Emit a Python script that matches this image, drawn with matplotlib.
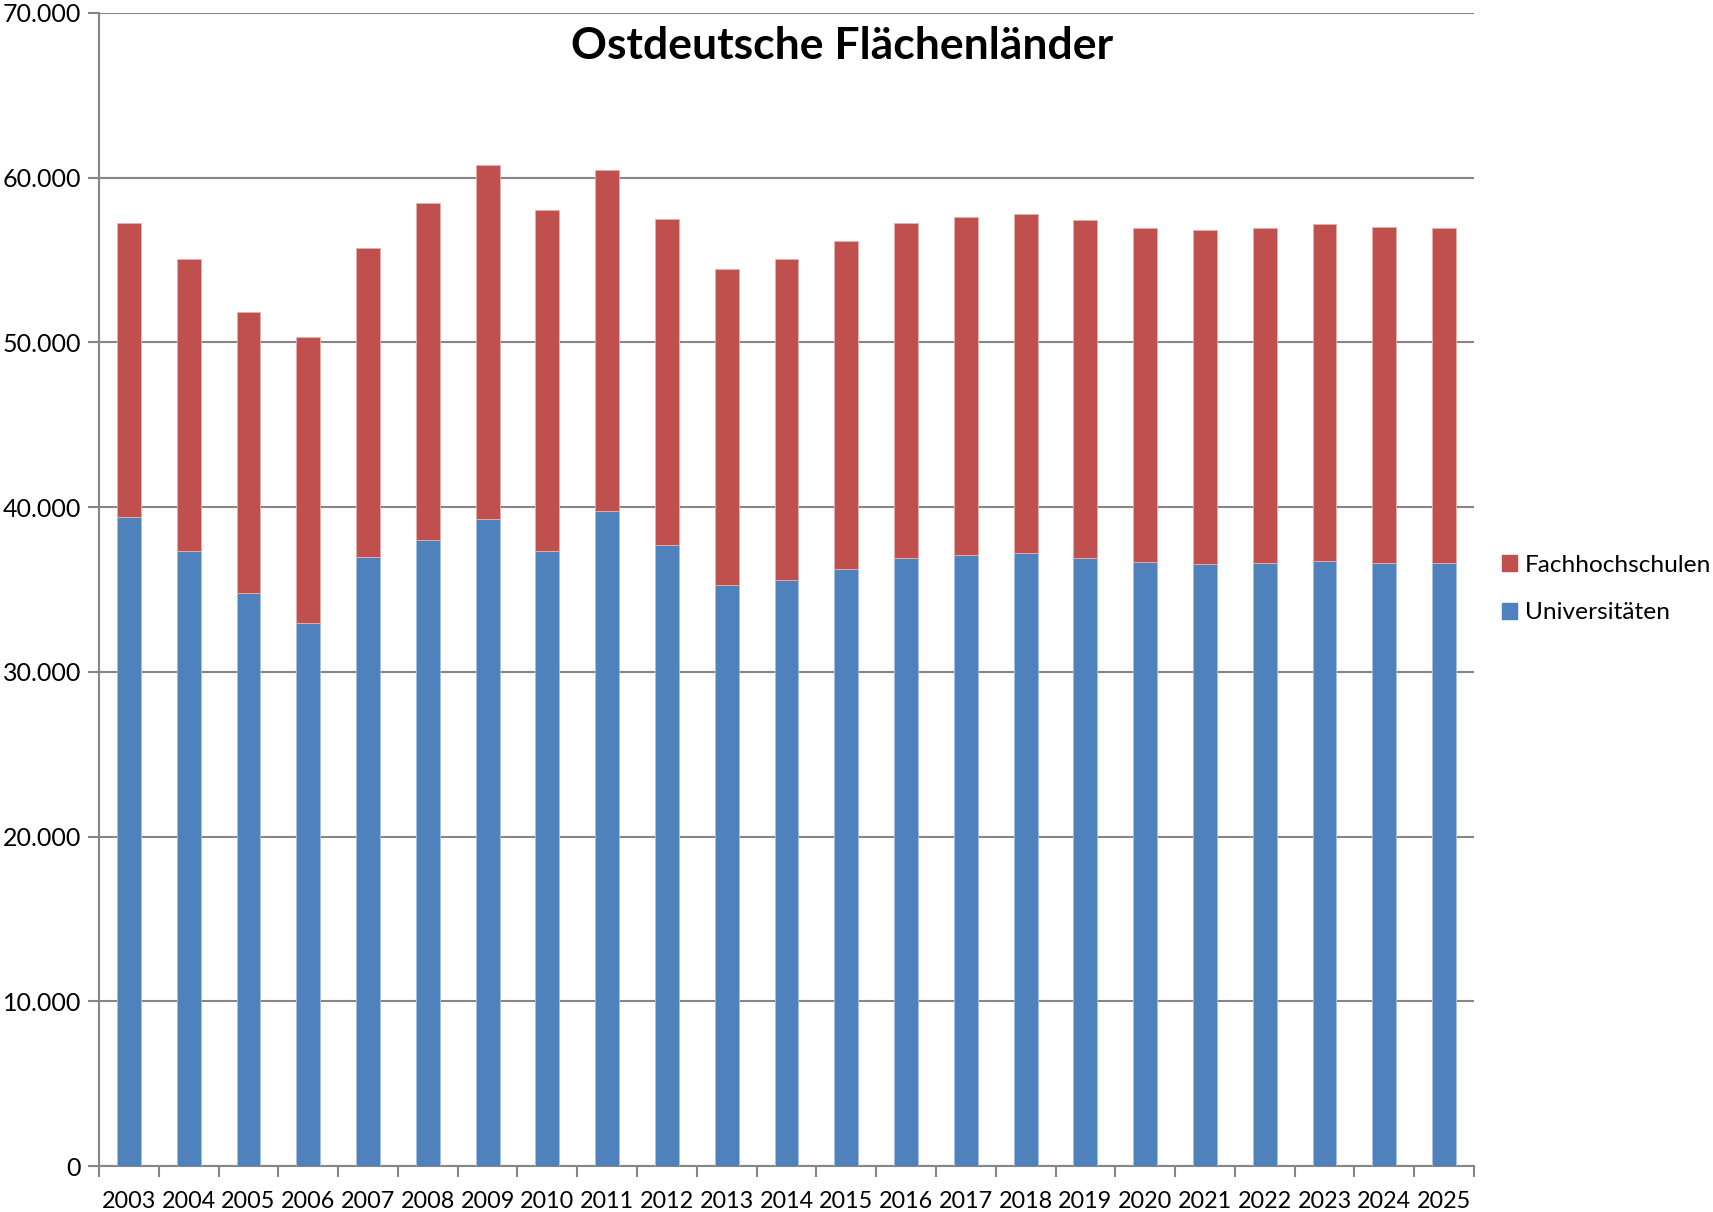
import matplotlib
matplotlib.use("Agg")
import matplotlib.pyplot as plt
import matplotlib.patches as mpatches
from matplotlib.ticker import FuncFormatter, FixedLocator
import numpy as np

plt.rcParams['font.family'] = ['Lato', 'DejaVu Sans']

years = [str(y) for y in range(2003, 2026)]
# totals and university share (in persons)
gesamt = [57250, 55060, 51860, 50320, 55750, 58480, 60790, 58060, 60470, 57490,
          54460, 55060, 56150, 57250, 57610, 57790, 57410, 56940, 56800, 56920,
          57190, 57010, 56950]
universitaeten = [39400, 37320, 34770, 32950, 36960, 38010, 39260, 37340, 39750, 37690,
                  35260, 35550, 36230, 36900, 37080, 37200, 36930, 36650, 36530, 36590,
                  36710, 36610, 36590]
fachhochschulen = [g - u for g, u in zip(gesamt, universitaeten)]

blue = '#4F81BD'
red = '#C0504D'
grey = '#868686'

fig = plt.figure(figsize=(17.13, 12.12), dpi=100)
ax = fig.add_axes([99 / 1713, 1 - 1166 / 1212, (1474 - 99) / 1713, (1166 - 13) / 1212])

x = np.arange(len(years))
ax.bar(x, universitaeten, width=0.4, color=blue, edgecolor='#A8C0E0', linewidth=0.6, zorder=3)
ax.bar(x, fachhochschulen, width=0.4, bottom=universitaeten, color=red,
       edgecolor='#E6B0AE', linewidth=0.6, zorder=3)

ax.set_xlim(-0.5, len(years) - 0.5)
ax.set_ylim(0, 70000)
ax.set_yticks(range(0, 70001, 10000))
ax.yaxis.set_major_formatter(FuncFormatter(lambda v, p: f"{int(v):,}".replace(",", ".")))
ax.yaxis.grid(True, color=grey, linewidth=1.5, zorder=0)
ax.set_axisbelow(True)

ax.set_xticks(x)
ax.set_xticklabels(years)
ax.xaxis.set_minor_locator(FixedLocator(np.arange(-0.5, len(years), 1.0)))
ax.tick_params(axis='x', which='major', length=0, pad=18, labelsize=16.8)
ax.tick_params(axis='x', which='minor', length=8, width=1.5, color=grey)
ax.tick_params(axis='y', length=8, width=1.5, color=grey, labelsize=18, pad=5)

for s in ['top', 'right']:
    ax.spines[s].set_visible(False)
for s in ['left', 'bottom']:
    ax.spines[s].set_color(grey)
    ax.spines[s].set_linewidth(1.5)

fig.text(842 / 1713, 1 - 46 / 1212, 'Ostdeutsche Flächenländer', ha='center', va='center',
         fontsize=32, fontweight='bold')

handles = [mpatches.Patch(color=red, label='Fachhochschulen'),
           mpatches.Patch(color=blue, label='Universitäten')]
fig.legend(handles=handles, loc='center left', bbox_to_anchor=(1502 / 1713, 1 - 589 / 1212),
           frameon=False, fontsize=17.6, handlelength=0.6, handleheight=0.6,
           handletextpad=0.35, labelspacing=1.1, borderpad=0, borderaxespad=0)

fig.savefig('out.png', dpi=100)
